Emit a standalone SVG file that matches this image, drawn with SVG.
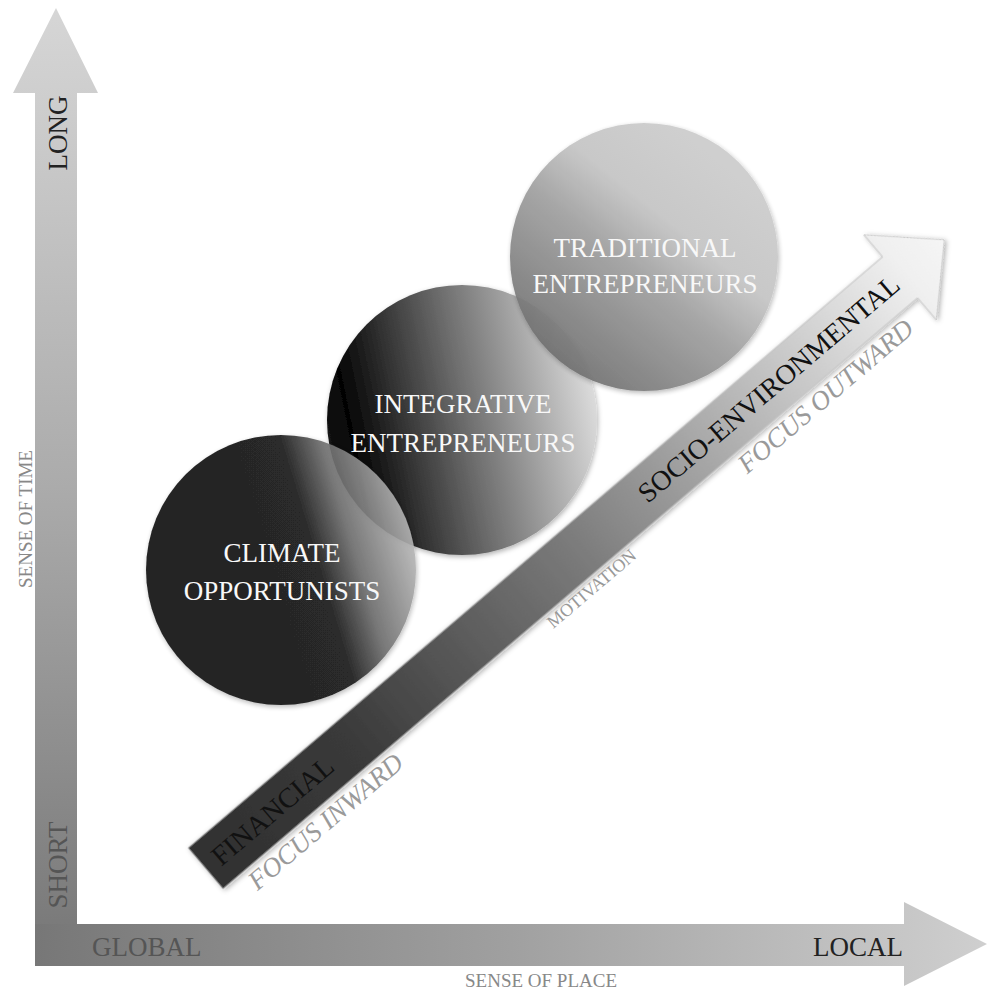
<svg xmlns="http://www.w3.org/2000/svg" width="988" height="990" viewBox="0 0 988 990">
  <style>
    text { font-family: "Liberation Serif", "Times New Roman", serif; }
    .axis { font-size: 27px; }
    .small { font-size: 19px; fill: #888; }
    .circ { font-size: 27px; fill: #f8f8f8; text-anchor: middle; }
    .diag { font-size: 28px; fill: #111; }
    .focus { font-size: 27px; fill: #9a9a9a; font-style: italic; }
  </style>
  <defs>
    <linearGradient id="gV" gradientUnits="userSpaceOnUse" x1="0" y1="8" x2="0" y2="966">
      <stop offset="0" stop-color="#d6d6d6"/>
      <stop offset="0.5" stop-color="#ababab"/>
      <stop offset="1" stop-color="#767676"/>
    </linearGradient>
    <linearGradient id="gH" gradientUnits="userSpaceOnUse" x1="35" y1="0" x2="987" y2="0">
      <stop offset="0" stop-color="#777777"/>
      <stop offset="0.5" stop-color="#a0a0a0"/>
      <stop offset="1" stop-color="#cfcfcf"/>
    </linearGradient>
    <linearGradient id="gD" gradientUnits="userSpaceOnUse" x1="0" y1="0" x2="970" y2="0">
      <stop offset="0" stop-color="#303030"/>
      <stop offset="0.2" stop-color="#3a3a3a"/>
      <stop offset="0.5" stop-color="#7a7a7a"/>
      <stop offset="0.75" stop-color="#bdbdbd"/>
      <stop offset="0.95" stop-color="#f0f0f0"/>
      <stop offset="1" stop-color="#f5f5f5"/>
    </linearGradient>
    <linearGradient id="gClim" gradientUnits="userSpaceOnUse" x1="152" y1="609" x2="410" y2="531">
      <stop offset="0" stop-color="#0e0e0e"/>
      <stop offset="0.63" stop-color="#121212"/>
      <stop offset="0.78" stop-color="#6a6a6a"/>
      <stop offset="1" stop-color="#b5b5b5"/>
    </linearGradient>
    <linearGradient id="gInt" gradientUnits="userSpaceOnUse" x1="327" y1="450" x2="598" y2="395">
      <stop offset="0" stop-color="#151515"/>
      <stop offset="0.1" stop-color="#050505"/>
      <stop offset="0.5" stop-color="#6a6a6a"/>
      <stop offset="1" stop-color="#dedede"/>
    </linearGradient>
    <linearGradient id="gTrad" gradientUnits="userSpaceOnUse" x1="555" y1="370" x2="735" y2="145">
      <stop offset="0" stop-color="#6c6c6c"/>
      <stop offset="0.45" stop-color="#a0a0a0"/>
      <stop offset="0.65" stop-color="#c4c4c4"/>
      <stop offset="1" stop-color="#cdcdcd"/>
    </linearGradient>
    <filter id="sh" x="-20%" y="-20%" width="140%" height="140%">
      <feDropShadow dx="1" dy="2" stdDeviation="2.5" flood-color="#000" flood-opacity="0.3"/>
    </filter>
  </defs>

  <g id="axis-time">
    <polygon points="35,924 35,93 13,93 56,8 98,93 77,93 77,924" fill="url(#gV)"/>
    <text class="axis" fill="#222" text-anchor="middle" transform="translate(67 133) rotate(-90)">LONG</text>
    <text class="axis" fill="#555" text-anchor="middle" transform="translate(67 865) rotate(-90)">SHORT</text>
    <text class="small" text-anchor="middle" transform="translate(32 519) rotate(-90)">SENSE OF TIME</text>
  </g>

  <g id="axis-place">
    <polygon points="35,924 904,924 904,902 987,944 904,986 904,966 35,966" fill="url(#gH)"/>
    <text class="axis" fill="#555" x="92" y="956">GLOBAL</text>
    <text class="axis" fill="#222" x="813" y="956">LOCAL</text>
    <text class="small" x="541" y="987" text-anchor="middle">SENSE OF PLACE</text>
  </g>

  <g id="connectors">
    <g id="motivation-arrow" transform="translate(205.5 868.5) rotate(-40.4)">
      <polygon points="0,-27 912,-27 912,-56 970,0 912,56 912,27 0,27" fill="url(#gD)" stroke="#c4c4c4" stroke-width="1" filter="url(#sh)"/>
      <text class="diag" x="13" y="9">FINANCIAL</text>
      <text class="diag" x="573" y="9">SOCIO-ENVIRONMENTAL</text>
      <text class="focus" x="25" y="51">FOCUS INWARD</text>
      <text class="focus" x="668" y="51">FOCUS OUTWARD</text>
      <text x="420" y="43" font-size="18" fill="#999">MOTIVATION</text>
    </g>
  </g>

  <g id="integrative">
    <circle cx="462" cy="420" r="135" fill="url(#gInt)" filter="url(#sh)"/>
    <text class="circ" x="463" y="413">INTEGRATIVE</text>
    <text class="circ" x="463" y="452">ENTREPRENEURS</text>
  </g>

  <g id="climate">
    <circle cx="281" cy="570" r="135" fill="url(#gClim)" opacity="0.9" filter="url(#sh)"/>
    <text class="circ" x="282" y="562">CLIMATE</text>
    <text class="circ" x="282" y="600">OPPORTUNISTS</text>
  </g>

  <g id="traditional">
    <circle cx="644" cy="257" r="134" fill="url(#gTrad)" opacity="0.92" filter="url(#sh)"/>
    <text class="circ" x="645" y="257">TRADITIONAL</text>
    <text class="circ" x="645" y="293">ENTREPRENEURS</text>
  </g>
</svg>
